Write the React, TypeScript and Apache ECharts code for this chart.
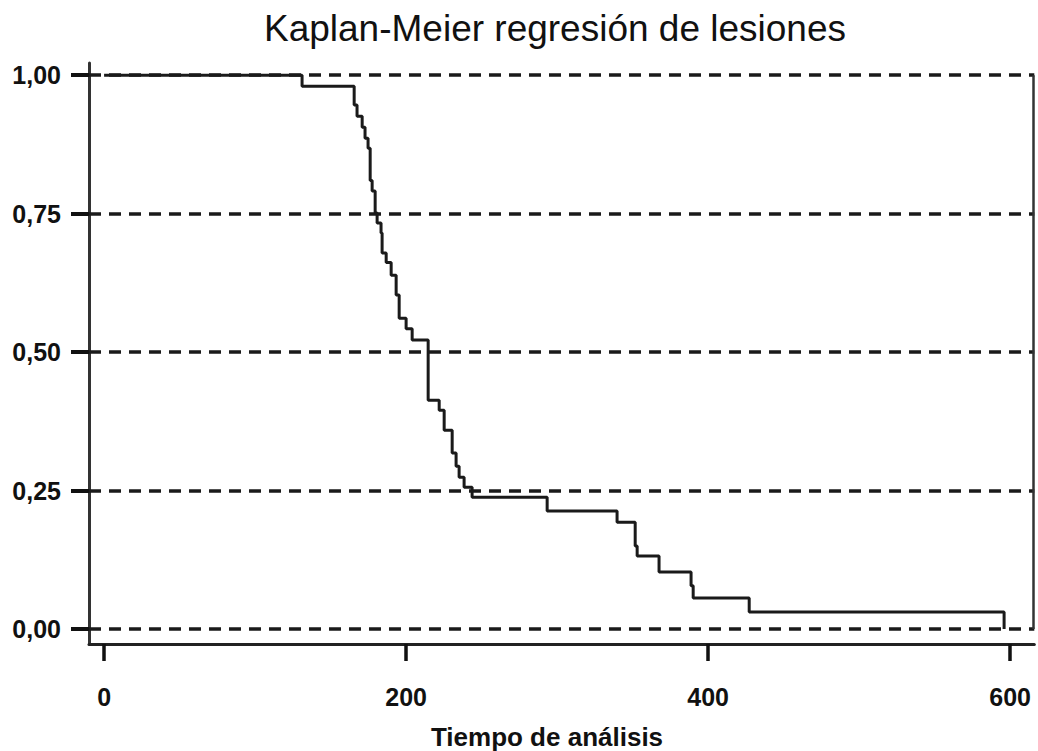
import React, { useEffect, useRef } from "react";
import * as echarts from "echarts";

// Kaplan-Meier step curve: time of each drop and survival after it
const times = [
  0, 131.1, 165.6, 167.5, 170.9, 172.8, 174.8, 176.2, 177.5, 179.5, 180.8,
  183.4, 184.1, 186.8, 190.1, 193.4, 195.4, 200.0, 204.0, 214.6, 221.9,
  225.2, 230.5, 233.1, 235.1, 238.4, 243.7, 293.4, 339.7, 351.7, 353.0,
  367.5, 388.7, 390.1, 427.2, 596.0,
];
const survival = [
  1.0, 0.98, 0.946, 0.926, 0.906, 0.886, 0.868, 0.81, 0.791, 0.751, 0.733,
  0.715, 0.679, 0.662, 0.639, 0.603, 0.561, 0.542, 0.522, 0.413, 0.395,
  0.359, 0.318, 0.294, 0.274, 0.256, 0.238, 0.213, 0.193, 0.15, 0.132,
  0.103, 0.078, 0.056, 0.031, 0.0,
];
const xTicks = [0, 200, 400, 600];
const yTicks = [0, 0.25, 0.5, 0.75, 1];
const frameX = 615.5;

const FONT = "'Liberation Sans', Arial, sans-serif";

export default function App() {
  const ref = useRef<HTMLDivElement>(null);
  useEffect(() => {
    if (!ref.current) return;
    const chart = echarts.init(ref.current, null, { renderer: "svg" });
    const data = times.map((t, i) => [t, survival[i]]);
    chart.setOption({
      animation: false,
      backgroundColor: "#ffffff",
      title: {
        text: "Kaplan-Meier regresión de lesiones",
        left: 550,
        top: 5,
        textAlign: "center",
        textStyle: { fontFamily: FONT, fontSize: 37, fontWeight: "normal", color: "#111" },
      },
      graphic: [
        {
          type: "text",
          x: 547,
          y: 737,
          style: {
            text: "Tiempo de análisis",
            fontFamily: FONT,
            fontSize: 26,
            fontWeight: "bold",
            fill: "#111",
            textAlign: "center",
            textVerticalAlign: "middle",
          },
        },
      ],
      grid: { left: 89, top: 63, right: 3.7, bottom: 107, containLabel: false },
      xAxis: {
        type: "value",
        min: -10,
        max: 616,
        axisLine: { show: true, onZero: false, lineStyle: { color: "#222", width: 3 } },
        axisTick: {
          show: true,
          customValues: xTicks,
          length: 17,
          lineStyle: { color: "#111", width: 3.5 },
        },
        axisLabel: {
          show: true,
          customValues: xTicks,
          margin: 40,
          fontFamily: FONT,
          fontSize: 25,
          fontWeight: "bold",
          color: "#111",
        },
        splitLine: { show: false },
      },
      yAxis: {
        type: "value",
        min: -0.027,
        max: 1.022,
        axisLine: { show: true, onZero: false, lineStyle: { color: "#333", width: 3 } },
        axisTick: {
          show: true,
          customValues: yTicks,
          length: 18,
          lineStyle: { color: "#111", width: 4 },
        },
        axisLabel: {
          show: true,
          customValues: yTicks,
          margin: 28,
          fontFamily: FONT,
          fontSize: 25,
          fontWeight: "bold",
          color: "#111",
          formatter: (v: number) => v.toFixed(2).replace(".", ","),
        },
        splitLine: { show: false },
      },
      series: [
        {
          type: "line",
          step: "end",
          data,
          showSymbol: false,
          symbol: "none",
          lineStyle: { color: "#1a1a1a", width: 3 },
          z: 3,
          markLine: {
            silent: true,
            symbol: ["none", "none"],
            label: { show: false },
            lineStyle: { color: "#1a1a1a", width: 3.5, type: [12, 8] },
            data: [
              ...yTicks.map((v) => ({ yAxis: v })),
              [
                { coord: [frameX, 0], lineStyle: { type: "solid", width: 2.5, color: "#333" } },
                { coord: [frameX, 1] },
              ],
            ],
          },
        },
      ],
    });
    return () => chart.dispose();
  }, []);
  return (
    <div
      ref={ref}
      style={{ position: "fixed", left: 0, top: 0, width: 1038, height: 751 }}
    />
  );
}
